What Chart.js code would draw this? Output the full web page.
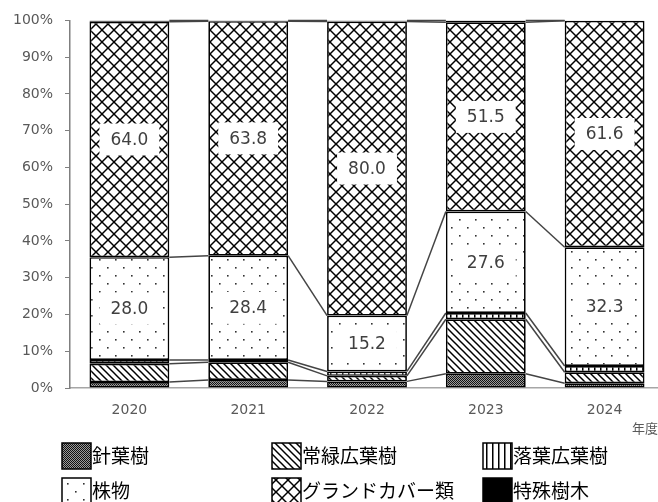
<!DOCTYPE html>
<html>
<head>
<meta charset="utf-8">
<script src="https://cdn.jsdelivr.net/npm/chart.js@4/dist/chart.umd.min.js"></script>
<style>
  html, body { margin: 0; padding: 0; background: #fff; overflow: hidden; }
  #wrap { width: 658px; height: 502px; overflow: hidden; }
</style>
</head>
<body>
<div id="wrap"><canvas id="chart" width="672" height="502"></canvas></div>
<script>
// categories and series (percent share per year)
const years = ['2020', '2021', '2022', '2023', '2024'];
const conifer = [1.6, 2.2, 1.8, 3.9, 1.3];
const evergreen = [5.0, 4.8, 1.5, 14.8, 3.0];
const deciduous = [1.0, 0.6, 1.2, 1.7, 1.7];
const shrubs = [28.0, 28.4, 15.2, 27.6, 32.3];
const groundCover = [64.0, 63.8, 80.0, 51.5, 61.6];
const special = [0.4, 0.2, 0.3, 0.5, 0.1];
const seriesNames = ['針葉樹', '常緑広葉樹', '落葉広葉樹', '株物', 'グランドカバー類', '特殊樹木'];
const labelledSeries = [3, 4];

const AXIS_FONT = "'DejaVu Sans', sans-serif";
const CJK_FONT = "'Noto Sans CJK JP', sans-serif";

// Small helper to build a repeating fill pattern
function makePattern(size, draw, bg = '#fff') {
  const c = document.createElement('canvas');
  c.width = size;
  c.height = size;
  const g = c.getContext('2d');
  g.fillStyle = bg;
  g.fillRect(0, 0, size, size);
  draw(g, size);
  return document.createElement('canvas').getContext('2d').createPattern(c, 'repeat');
}

const patterns = [
  // conifer: dense dark checker
  makePattern(2, (g) => {
    g.fillStyle = '#111';
    g.fillRect(0, 0, 1, 1);
    g.fillRect(1, 1, 1, 1);
  }, '#9a9a9a'),
  // evergreen: "\" diagonals
  makePattern(7, (g, s) => {
    g.strokeStyle = '#000';
    g.lineWidth = 1.5;
    for (const o of [-s, 0, s]) {
      g.beginPath();
      g.moveTo(o - 1, -1);
      g.lineTo(o + s + 1, s + 1);
      g.stroke();
    }
  }),
  // deciduous: vertical lines
  makePattern(6, (g, s) => {
    g.fillStyle = '#000';
    g.fillRect(0, 0, 1.5, s);
  }),
  // shrubs: sparse dots
  makePattern(16, (g) => {
    g.fillStyle = '#333';
    g.fillRect(3, 3, 1.6, 1.6);
    g.fillRect(11, 11, 1.6, 1.6);
  }),
  // ground cover: diagonal cross hatch
  makePattern(12, (g, s) => {
    g.strokeStyle = '#000';
    g.lineWidth = 1.5;
    for (const o of [-s, 0, s]) {
      g.beginPath();
      g.moveTo(o - 1, -1);
      g.lineTo(o + s + 1, s + 1);
      g.stroke();
      g.beginPath();
      g.moveTo(o - 1, s + 1);
      g.lineTo(o + s + 1, -1);
      g.stroke();
    }
  }),
  '#000'
];

const seriesData = [conifer, evergreen, deciduous, shrubs, groundCover, special];

// Excel-style series lines joining the top of each segment
const seriesLinesPlugin = {
  id: 'seriesLines',
  afterDatasetsDraw(chart) {
    const ctx = chart.ctx;
    ctx.save();
    ctx.strokeStyle = '#444';
    ctx.lineWidth = 1.5;
    chart.data.datasets.forEach((ds, d) => {
      const bars = chart.getDatasetMeta(d).data;
      for (let i = 0; i < bars.length - 1; i++) {
        const a = bars[i], b = bars[i + 1];
        ctx.beginPath();
        ctx.moveTo(a.x + a.width / 2, a.y);
        ctx.lineTo(b.x - b.width / 2, b.y);
        ctx.stroke();
      }
    });
    ctx.restore();
  }
};

// Value labels on a white box for shrubs and ground cover
const valueLabelsPlugin = {
  id: 'valueLabels',
  afterDatasetsDraw(chart) {
    const ctx = chart.ctx;
    ctx.save();
    ctx.font = `17px ${AXIS_FONT}`;
    ctx.textAlign = 'center';
    ctx.textBaseline = 'middle';
    labelledSeries.forEach(d => {
      const bars = chart.getDatasetMeta(d).data;
      bars.forEach((bar, i) => {
        const txt = seriesData[d][i].toFixed(1);
        const cy = (bar.y + bar.base) / 2;
        const w = ctx.measureText(txt).width + 22;
        ctx.fillStyle = '#fff';
        ctx.fillRect(bar.x - w / 2, cy - 16, w, 32);
        ctx.fillStyle = '#404040';
        ctx.fillText(txt, bar.x, cy + 1);
      });
    });
    ctx.restore();
  }
};

// Bottom legend (2 rows x 3 columns) plus the "年度" axis note
const legendPlugin = {
  id: 'customLegend',
  afterDraw(chart) {
    const ctx = chart.ctx;
    const cols = [62, 272, 483];
    const rows = [443, 478];
    ctx.save();
    ctx.font = `13px ${CJK_FONT}`;
    ctx.fillStyle = '#595959';
    ctx.textAlign = 'center';
    ctx.textBaseline = 'middle';
    ctx.fillText('年度', 645, 428);

    ctx.font = `19px ${CJK_FONT}`;
    ctx.textAlign = 'left';
    seriesNames.forEach((name, k) => {
      const x = cols[k % 3];
      const y = rows[Math.floor(k / 3)];
      ctx.fillStyle = patterns[k];
      ctx.fillRect(x, y, 29, 26);
      ctx.strokeStyle = '#000';
      ctx.lineWidth = 1.5;
      ctx.strokeRect(x, y, 29, 26);
      ctx.fillStyle = '#000';
      ctx.fillText(name, x + 30, y + 13);
    });
    ctx.restore();
  }
};

new Chart(document.getElementById('chart'), {
  type: 'bar',
  data: {
    labels: years,
    datasets: seriesNames.map((name, k) => ({
      label: name,
      data: seriesData[k],
      backgroundColor: patterns[k],
      borderColor: '#000',
      borderWidth: 1.7,
      borderSkipped: false,
      categoryPercentage: 1,
      barPercentage: 0.672
    }))
  },
  options: {
    responsive: false,
    animation: false,
    devicePixelRatio: 1,
    layout: { padding: { top: 20, right: 8, bottom: 84, left: 0 } },
    plugins: {
      legend: { display: false },
      tooltip: { enabled: false }
    },
    scales: {
      x: {
        stacked: true,
        grid: { display: false, drawTicks: false },
        border: { color: '#a6a6a6', width: 1.5 },
        ticks: { color: '#595959', font: { family: AXIS_FONT, size: 14 }, padding: 14 },
        afterFit: (scale) => { scale.height = 30; }
      },
      y: {
        stacked: true,
        min: 0,
        max: 100,
        grid: { drawOnChartArea: false, tickLength: 5, color: '#7f7f7f' },
        border: { color: '#7f7f7f', width: 1.5 },
        ticks: {
          stepSize: 10,
          color: '#595959',
          font: { family: AXIS_FONT, size: 14 },
          padding: 12,
          callback: (v) => `${v}%`
        },
        afterFit: (scale) => { scale.width = 70; }
      }
    }
  },
  plugins: [seriesLinesPlugin, valueLabelsPlugin, legendPlugin]
});
</script>
</body>
</html>
